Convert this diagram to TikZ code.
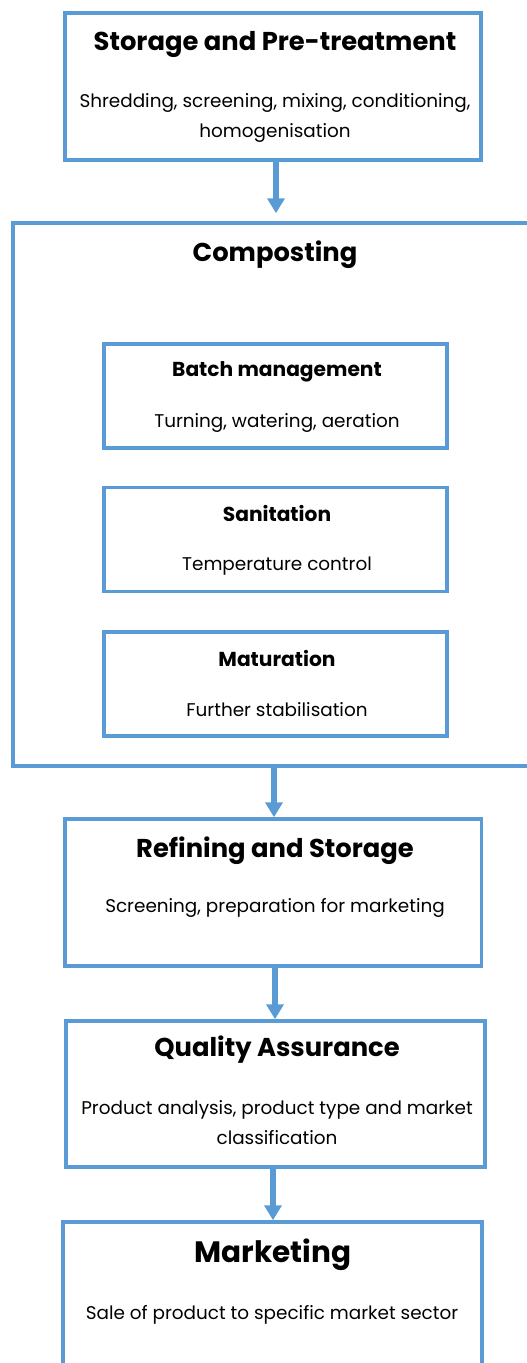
\documentclass[tikz,border=0pt]{standalone}
\usepackage{fontspec}
\setmainfont{Poppins}
\usetikzlibrary{arrows.meta}
\definecolor{boxblue}{HTML}{5B9BD5}
\tikzset{
  box/.style={draw=boxblue, line width=3.5pt, fill=none, inner sep=0pt},
  flow/.style={draw=boxblue, line width=6pt, -{Triangle[width=17pt,length=15pt]}},
  bigtitle/.style={font=\fontsize{25.8}{30}\selectfont\bfseries, anchor=center},
  hugetitle/.style={font=\fontsize{29.5}{34}\selectfont\bfseries, anchor=center},
  subtitle/.style={font=\fontsize{20.2}{24}\selectfont\bfseries, anchor=center},
  bodytext/.style={font=\fontsize{18.4}{30}\selectfont, align=center, anchor=center},
}
\begin{document}
\begin{tikzpicture}[x=1pt,y=-1pt]
\useasboundingbox (0,0) rectangle (527,1363);
% boxes
\node[box, minimum width=416pt, minimum height=147pt] (pre) at (273,86.5) {};
\node[box, minimum width=540pt, minimum height=543pt] (comp) at (283,494.5) {};
\node[box, minimum width=343pt, minimum height=104pt] (batch) at (275.5,396) {};
\node[box, minimum width=343pt, minimum height=104pt] (sani) at (275.5,539.5) {};
\node[box, minimum width=343pt, minimum height=104pt] (matu) at (275.5,684) {};
\node[box, minimum width=416.5pt, minimum height=147pt] (refi) at (273,892.5) {};
\node[box, minimum width=419pt, minimum height=146pt] (qual) at (275.5,1094) {};
\node[box, minimum width=419pt, minimum height=200pt] (mark) at (272.5,1322) {};
% texts
\node[bigtitle] (preT) at (275,44) {Storage and Pre-treatment};
\node[bodytext] (preB) at (275,117.5) {Shredding, screening, mixing, conditioning,\\homogenisation};
\node[bigtitle] (compT) at (275,255) {Composting};
\node[subtitle] (batchT) at (277,371.5) {Batch management};
\node[bodytext] (batchB) at (277,423) {Turning, watering, aeration};
\node[subtitle] (saniT) at (277,513.5) {Sanitation};
\node[bodytext] (saniB) at (277,566) {Temperature control};
\node[subtitle] (matuT) at (277,658.5) {Maturation};
\node[bodytext] (matuB) at (277,710) {Further stabilisation};
\node[bigtitle] (refiT) at (275,850.5) {Refining and Storage};
\node[bodytext] (refiB) at (275,907.5) {Screening, preparation for marketing};
\node[bigtitle] (qualT) at (277,1050) {Quality Assurance};
\node[bodytext] (qualB) at (277,1122.5) {Product analysis, product type and market\\classification};
\node[hugetitle] (markT) at (273,1255) {Marketing};
\node[bodytext] (markB) at (272,1315) {Sale of product to specific market sector};
% arrows
\draw[flow, shorten >=8pt] ([xshift=3pt]pre.south) -- ([xshift=3pt]pre.south |- comp.north);
\draw[flow] ([xshift=1pt]refi.north |- comp.south) -- ([xshift=1pt]refi.north);
\draw[flow] ([xshift=-0.5pt]qual.north |- refi.south) -- ([xshift=-0.5pt]qual.north);
\draw[flow] ([xshift=0.5pt]mark.north |- qual.south) -- ([xshift=0.5pt]mark.north);
\end{tikzpicture}
\end{document}
